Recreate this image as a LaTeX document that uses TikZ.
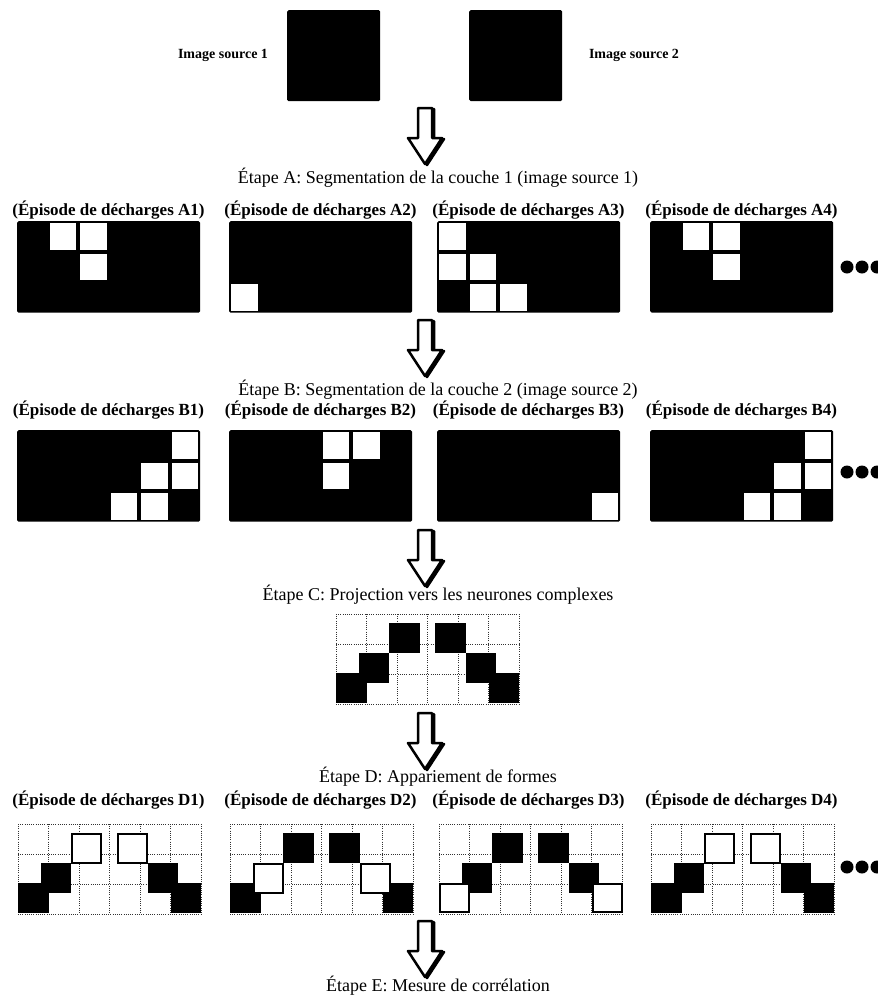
\documentclass[tikz,border=0pt]{standalone}
\usepackage{fontspec}
\setmainfont{Liberation Serif}
\usepackage{tikz}
\usetikzlibrary{positioning}

\tikzset{
  carre/.style={fill=black, rounded corners=1.5pt, minimum width=93pt, minimum height=91pt, inner sep=0pt, anchor=north west},
  panneau/.style={fill=black, rounded corners=1.5pt, minimum width=183pt, minimum height=91.5pt, inner sep=0pt, anchor=north west},
  grille/.style={minimum width=183pt, minimum height=90pt, inner sep=0pt, anchor=north west},
  blanc/.style={fill=white},
  pointille/.style={black!80, line width=0.8pt, dash pattern=on 1pt off 1.2pt},
  bloc/.style={fill=black},
  creux/.style={fill=white, draw=black, line width=2pt},
  source/.style={font=\fontsize{14}{16}\selectfont\bfseries, inner sep=0pt},
  etiquette/.style={font=\fontsize{17}{20}\selectfont\bfseries, inner sep=0pt},
  etape/.style={font=\fontsize{18}{21}\selectfont, inner sep=0pt},
  ombre/.style={fill=black, draw=black, line width=2.5pt, line join=round},
  fleche/.style={draw=black, fill=white, line width=2.5pt, line join=round},
}

\begin{document}
\begin{tikzpicture}[x=1pt, y=-1pt]
    \fill[white] (0,0) rectangle (878,999);
    \useasboundingbox (0,0) rectangle (878,999);

    % 1. Les deux images sources
    \node[carre] (img1) at (287,10) {};
    \node[carre] (img2) at (469,10) {};
    \node[source] (src1) at (223,55) {Image source 1};
    \node[source] (src2) at (634,55) {Image source 2};

    % 2. Les flèches creuses entre les étapes (avec ombre à droite)
    \foreach \y in {108,320,530,713,921} {
        \draw[ombre] (420,\y+1) -- (434,\y+1) -- (434,\y+31) -- (444,\y+31)
            -- (427,\y+57) -- (410,\y+31) -- (420,\y+31) -- cycle;
        \draw[fleche] (418,\y) -- (432,\y) -- (432,\y+30) -- (442,\y+30)
            -- (425,\y+56) -- (408,\y+30) -- (418,\y+30) -- cycle;
    }

    % 3. Les titres des étapes
    \node[etape] (etapeA) at (438,178) {Étape A: Segmentation de la couche 1 (image source 1)};
    \node[etape] (etapeB) at (438,390) {Étape B: Segmentation de la couche 2 (image source 2)};
    \node[etape] (etapeC) at (438,595) {Étape C: Projection vers les neurones complexes};
    \node[etape] (etapeD) at (438,777) {Étape D: Appariement de formes};
    \node[etape] (etapeE) at (438,986) {Étape E: Mesure de corrélation};

    % 4. Épisodes de décharges A et B (cases blanches sur fond noir)
    \foreach \r/\y in {A/210,B/410,D/800}
        \foreach \k/\x in {1/108.5,2/320.5,3/528.5,4/741.5}
            \node[etiquette] (l\r\k) at (\x,\y) {(Épisode de décharges \r\k)};
    \foreach \r/\y in {A/221,B/430}
        \foreach \k/\x in {1/17,2/229,3/437,4/650}
            \node[panneau] (p\r\k) at (\x,\y) {};
    \foreach \p/\i/\j in {pA1/1/0, pA1/2/0, pA1/2/1, pA2/0/2,
                          pA3/0/0, pA3/0/1, pA3/1/1, pA3/1/2, pA3/2/2,
                          pA4/1/0, pA4/2/0, pA4/2/1,
                          pB1/5/0, pB1/4/1, pB1/5/1, pB1/3/2, pB1/4/2,
                          pB2/3/0, pB2/4/0, pB2/3/1, pB3/5/2,
                          pB4/5/0, pB4/4/1, pB4/5/1, pB4/3/2, pB4/4/2}
        \fill[blanc] ([shift={(\i*30.5+2,\j*30.5+2)}]\p.north west) rectangle ++(26.5,26.5);

    % 5. Grilles des neurones complexes (C) et de l'appariement (D)
    \node[grille] (gC) at (336,614) {};
    \foreach \k/\x in {1/18,2/230,3/439,4/651}
        \node[grille] (gD\k) at (\x,824) {};
    \foreach \g in {gC,gD1,gD2,gD3,gD4} {
        \foreach \k in {0,...,6}
            \draw[pointille] ([shift={(\k*30.5,0)}]\g.north west) -- ++(0,90);
        \foreach \k in {0,...,3}
            \draw[pointille] ([shift={(0,\k*30)}]\g.north west) -- ++(183,0);
        \foreach \i/\j in {0/1.95, 5/1.95, 0.75/1.3, 4.25/1.3, 1.75/0.3, 3.25/0.3}
            \fill[bloc] ([shift={(\i*30.5,\j*30)}]\g.north west) rectangle ++(30.5,30);
    }
    % formes appariées (cases creuses)
    \foreach \g/\i/\j in {gD1/1.75/0.3, gD1/3.25/0.3, gD2/0.75/1.3, gD2/4.25/1.3,
                          gD3/0/1.95, gD3/5/1.95, gD4/1.75/0.3, gD4/3.25/0.3}
        \draw[creux] ([shift={(\i*30.5+1,\j*30+1)}]\g.north west) rectangle ++(29,28.5);

    % 6. Points de suspension
    \foreach \y in {267,472,867}
        \foreach \x in {847,862,877}
            \fill[black] (\x,\y) circle (6.5pt);

\end{tikzpicture}
\end{document}
